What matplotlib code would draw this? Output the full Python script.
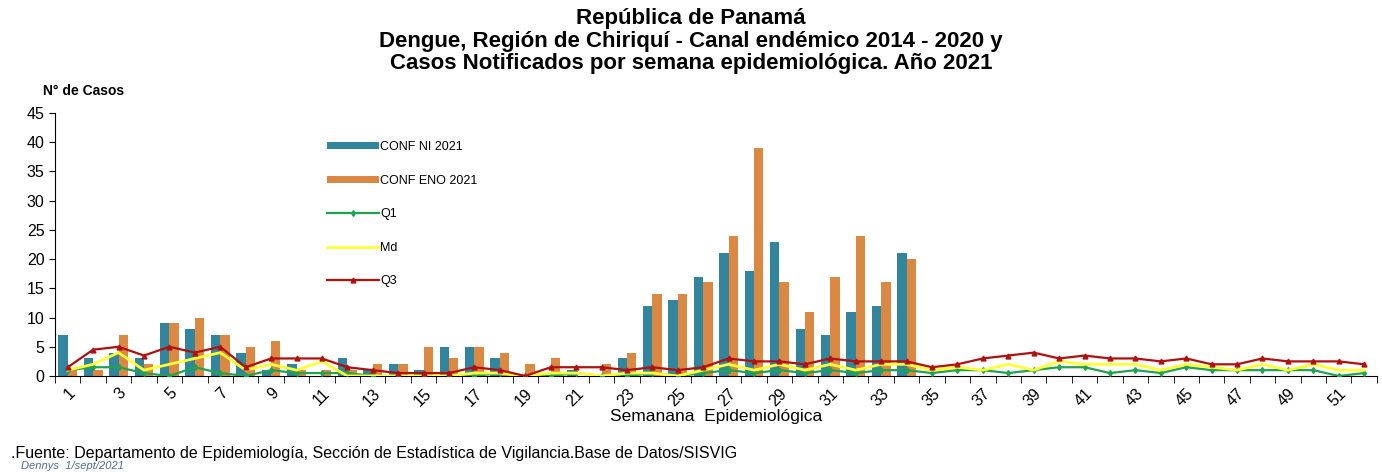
import numpy as np
import matplotlib.pyplot as plt
from matplotlib.ticker import FixedLocator, NullFormatter

plt.rcParams['font.family'] = ['Liberation Sans', 'DejaVu Sans']

weeks = list(range(1, 53))

# confirmed cases 2021, weeks 1-34
conf_ni = [7, 3, 4, 3, 9, 8, 7, 4, 1, 2, 0, 3, 1, 2, 1, 5, 5, 3, 0, 0,
           1, 0, 3, 12, 13, 17, 21, 18, 23, 8, 7, 11, 12, 21]
conf_eno = [1, 1, 7, 2, 9, 10, 7, 5, 6, 1, 1, 1, 2, 2, 5, 3, 5, 4, 2, 3,
            0, 2, 4, 14, 14, 16, 24, 39, 16, 11, 17, 24, 16, 20]

# endemic channel 2014-2020
q1 = [1, 1.5, 1.5, 0.5, 0, 1.5, 0.5, 0, 1, 0.5, 0.5, 0.5, 0, 0, 0, 0,
      0, 0.5, 0, 0, 0.5, 0, 0, 0.5, 0, 0.5, 1, 0.5, 1, 0.5, 1, 0.5,
      1, 1, 0.5, 1, 1, 0.5, 1, 1.5, 1.5, 0.5, 1, 0.5, 1.5, 1, 1, 1,
      1, 1, 0, 0.5]
md = [1, 2, 4, 1, 2, 3, 4, 1, 2, 1, 2.5, 0, 0, 0, 0, 0, 0.5, 0.5, 0,
      0.5, 0.5, 0, 0.5, 0.5, 0, 1, 2, 1, 2, 1, 2, 1, 2, 2, 1, 1.5, 1,
      2, 1, 2.5, 2, 2, 2, 1, 2, 1.5, 1, 2, 1, 2, 1, 1]
q3 = [1.5, 4.5, 5, 3.5, 5, 4, 5, 1.5, 3, 3, 3, 1.5, 1, 0.5, 0.5, 0.5,
      1.5, 1, 0, 1.5, 1.5, 1.5, 1, 1.5, 1, 1.5, 3, 2.5, 2.5, 2, 3, 2.5,
      2.5, 2.5, 1.5, 2, 3, 3.5, 4, 3, 3.5, 3, 3, 2.5, 3, 2, 2, 3, 2.5,
      2.5, 2.5, 2]

fig = plt.figure(figsize=(13.82, 4.72), dpi=100)
ax = fig.add_axes([0.0398, 0.2034, 0.9565, 0.5572])

x = np.arange(len(weeks))
xb = np.arange(len(conf_ni))
w = 0.37
b1 = ax.bar(xb - w / 2, conf_ni, w, color='#31859C', label='CONF NI 2021', zorder=2)
b2 = ax.bar(xb + w / 2, conf_eno, w, color='#DB8843', label='CONF ENO 2021', zorder=2)
l1, = ax.plot(x, q1, color='#1FA34E', lw=1.6, marker='d', ms=3, label='Q1', zorder=3)
l2, = ax.plot(x, md, color='#FFFF33', lw=2.0, label='Md', zorder=3)
l3, = ax.plot(x, q3, color='#B01010', lw=1.6, marker='^', ms=3.5, label='Q3', zorder=4)

ax.set_xlim(-0.5, len(weeks) - 0.5)
ax.set_ylim(0, 45)
ax.set_yticks(range(0, 46, 5))
ax.tick_params(axis='y', labelsize=11.5, length=4, direction='out')

odd = [i for i in x if weeks[i] % 2 == 1]
ax.set_xticks(odd)
ax.set_xticklabels([str(weeks[i]) for i in odd], rotation=45, ha='right',
                   rotation_mode='anchor', fontsize=11.5)
ax.tick_params(axis='x', which='major', length=0, pad=7)
ax.xaxis.set_minor_locator(FixedLocator(np.arange(-0.5, len(weeks), 1)))
ax.xaxis.set_minor_formatter(NullFormatter())
ax.tick_params(axis='x', which='minor', length=5, direction='out')

for s in ['top', 'right']:
    ax.spines[s].set_visible(False)

ax.set_xlabel('Semanana  Epidemiológica', fontsize=12.5, labelpad=0)

ax.legend([b1, b2, l1, l2, l3], ['CONF NI 2021', 'CONF ENO 2021', 'Q1', 'Md', 'Q3'],
          loc='upper left', bbox_to_anchor=(0.197, 0.935), frameon=False,
          fontsize=9, labelspacing=1.72, handlelength=4.2, handletextpad=0.1,
          handleheight=0.5)

fig.text(0.5, 0.961, 'República de Panamá', ha='center', va='center',
         fontsize=16, fontweight='bold')
fig.text(0.5, 0.913, 'Dengue, Región de Chiriquí - Canal endémico 2014 - 2020 y',
         ha='center', va='center', fontsize=16, fontweight='bold')
fig.text(0.5, 0.866, 'Casos Notificados por semana epidemiológica. Año 2021',
         ha='center', va='center', fontsize=16, fontweight='bold')
fig.text(0.031, 0.808, 'N° de Casos', ha='left', va='center', fontsize=10,
         fontweight='bold')

fig.text(0.008, 0.04, '.Fuente: Departamento de Epidemiología, Sección de Estadística de Vigilancia.Base de Datos/SISVIG',
         ha='left', va='center', fontsize=11.5)
fig.text(0.015, 0.012, 'Dennys  1/sept/2021', ha='left', va='center',
         fontsize=8, style='italic', color='#4F6A8C')

fig.savefig('out.png', dpi=100)
